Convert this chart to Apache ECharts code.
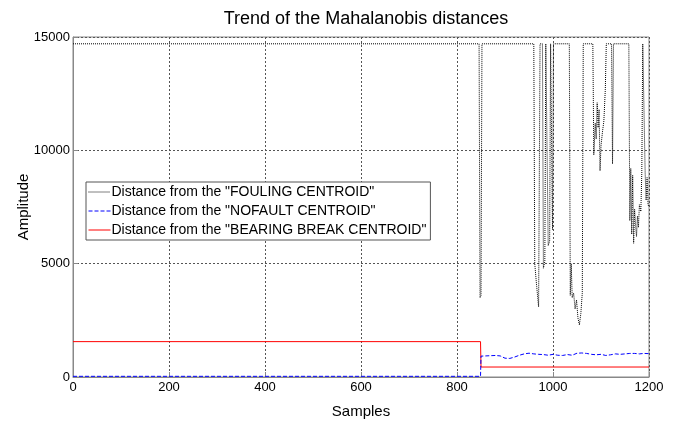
<!DOCTYPE html>
<html>
<head>
<meta charset="utf-8">
<script src="https://cdn.jsdelivr.net/npm/echarts@6/dist/echarts.min.js"></script>
<style>
  html, body { margin: 0; padding: 0; background: #fff; }
  #chart { width: 674px; height: 424px; }
</style>
</head>
<body>
<div id="chart"></div>
<script>
// 数据
const xTicks = [0, 200, 400, 600, 800, 1000, 1200];
const yTicks = [0, 5000, 10000, 15000];

// Distance from the "FOULING CENTROID"  [sample, value]
const fouling = [
  [0, 14700], [846, 14700], [848, 3500], [850, 3600], [852, 14700],
  [960, 14700], [962, 5000], [966, 4000], [970, 3100], [973, 14700],
  [978, 14700], [980, 4800], [983, 5100], [985, 14700],
  [988, 14700], [990, 5800], [993, 6000], [995, 14700], [997, 14700], [999, 6500], [1001, 14700],
  [1034, 14700], [1036, 3600], [1038, 5000], [1040, 3500], [1043, 3700], [1046, 3000],
  [1049, 3400], [1052, 2600], [1055, 2300], [1058, 2800], [1061, 3700], [1063, 14700],
  [1083, 14700], [1085, 9800], [1088, 11200], [1090, 10500], [1092, 12100], [1094, 11000],
  [1096, 11800], [1098, 9100], [1100, 10200], [1103, 10800], [1106, 11300], [1109, 12700], [1111, 14700],
  [1122, 14700], [1124, 9400], [1126, 14700],
  [1158, 14700], [1160, 6900], [1162, 9200], [1164, 6300], [1166, 8900], [1168, 5900],
  [1170, 7400], [1172, 6700], [1174, 6200], [1176, 7100], [1178, 6600], [1180, 7600],
  [1183, 7300], [1185, 9000], [1187, 14700], [1190, 14700], [1192, 9000], [1194, 7800],
  [1196, 8800], [1198, 7600], [1200, 7500]
];

// Distance from the "NOFAULT CENTROID"
const nofault = [
  [0, 30], [849, 30], [850, 920], [860, 930], [870, 940], [880, 950], [890, 930], [900, 830],
  [910, 820], [920, 880], [930, 960], [940, 1020], [950, 1050], [960, 1020], [970, 1000],
  [980, 990], [990, 960], [1000, 1000], [1010, 960], [1020, 950], [1030, 990], [1040, 960],
  [1050, 1050], [1060, 1060], [1070, 1040], [1080, 1000], [1090, 980], [1100, 1000],
  [1110, 950], [1120, 980], [1130, 1020], [1140, 1000], [1150, 1020], [1160, 1040],
  [1170, 1040], [1180, 1020], [1190, 1040], [1200, 1030]
];

// Distance from the "BEARING BREAK CENTROID"
const bearing = [
  [0, 1560], [849, 1560], [850, 440], [1200, 440]
];

const names = [
  'Distance from the "FOULING CENTROID"',
  'Distance from the "NOFAULT CENTROID"',
  'Distance from the "BEARING BREAK CENTROID"'
];

const chart = echarts.init(document.getElementById('chart'));
const font = 'Liberation Sans, Arial, sans-serif';
chart.setOption({
  animation: false,
  backgroundColor: '#fff',
  textStyle: { fontFamily: font },
  title: {
    text: 'Trend of the Mahalanobis distances',
    left: 361,
    textAlign: 'center',
    top: 5,
    textStyle: { fontSize: 18, fontWeight: 'normal', color: '#000', fontFamily: font }
  },
  grid: { // 图表大小/间距配置
    left: 73, right: 25, top: 37, bottom: 41,
    show: true, borderColor: '#888', borderWidth: 1
  },
  legend: {
    orient: 'vertical',
    left: 86, top: 182,
    itemWidth: 22, itemHeight: 10, itemGap: 5,
    padding: [3, 4, 3, 2],
    borderColor: '#555', borderWidth: 1,
    backgroundColor: '#fff',
    itemStyle: { opacity: 0 },
    lineStyle: { width: 1 },
    textStyle: { fontSize: 14, color: '#000', fontFamily: font, padding: [0, 0, 0, -4] },
    data: names
  },
  xAxis: {
    type: 'value',
    min: 0, max: 1200, interval: 200,
    name: 'Samples', nameLocation: 'middle', nameGap: 27,
    nameTextStyle: { fontSize: 15, color: '#000' },
    axisLine: { lineStyle: { color: '#888' } },
    axisTick: { show: true, inside: true, length: 5, lineStyle: { color: '#888' } },
    axisLabel: { fontSize: 13, color: '#000', margin: 4, formatter: v => String(v) },
    splitLine: { show: true, lineStyle: { type: [2, 2], color: '#555' } }
  },
  yAxis: {
    type: 'value',
    min: 0, max: 15000, interval: 5000,
    name: 'Amplitude', nameLocation: 'middle', nameGap: 42, nameRotate: 90,
    nameMoveOverlap: false,
    nameTextStyle: { fontSize: 15, color: '#000' },
    axisLine: { show: true, lineStyle: { color: '#888' } },
    axisTick: { show: true, inside: true, length: 5, lineStyle: { color: '#888' } },
    axisLabel: { fontSize: 13, color: '#000', margin: 3, formatter: v => String(v) },
    splitLine: { show: true, lineStyle: { type: [2, 2], color: '#555' } }
  },
  series: [
    {
      name: names[0], type: 'line', data: fouling, symbol: 'none',
      lineStyle: { color: '#000', width: 1, type: [1, 1] },
      itemStyle: { color: '#000' }, z: 3
    },
    {
      name: names[1], type: 'line', data: nofault, symbol: 'none',
      lineStyle: { color: '#0000ff', width: 1, type: [4, 2] },
      itemStyle: { color: '#0000ff' }, z: 4
    },
    {
      name: names[2], type: 'line', data: bearing, symbol: 'none',
      lineStyle: { color: '#ff0000', width: 1 },
      itemStyle: { color: '#ff0000' }, z: 2
    }
  ]
});
</script>
</body>
</html>
